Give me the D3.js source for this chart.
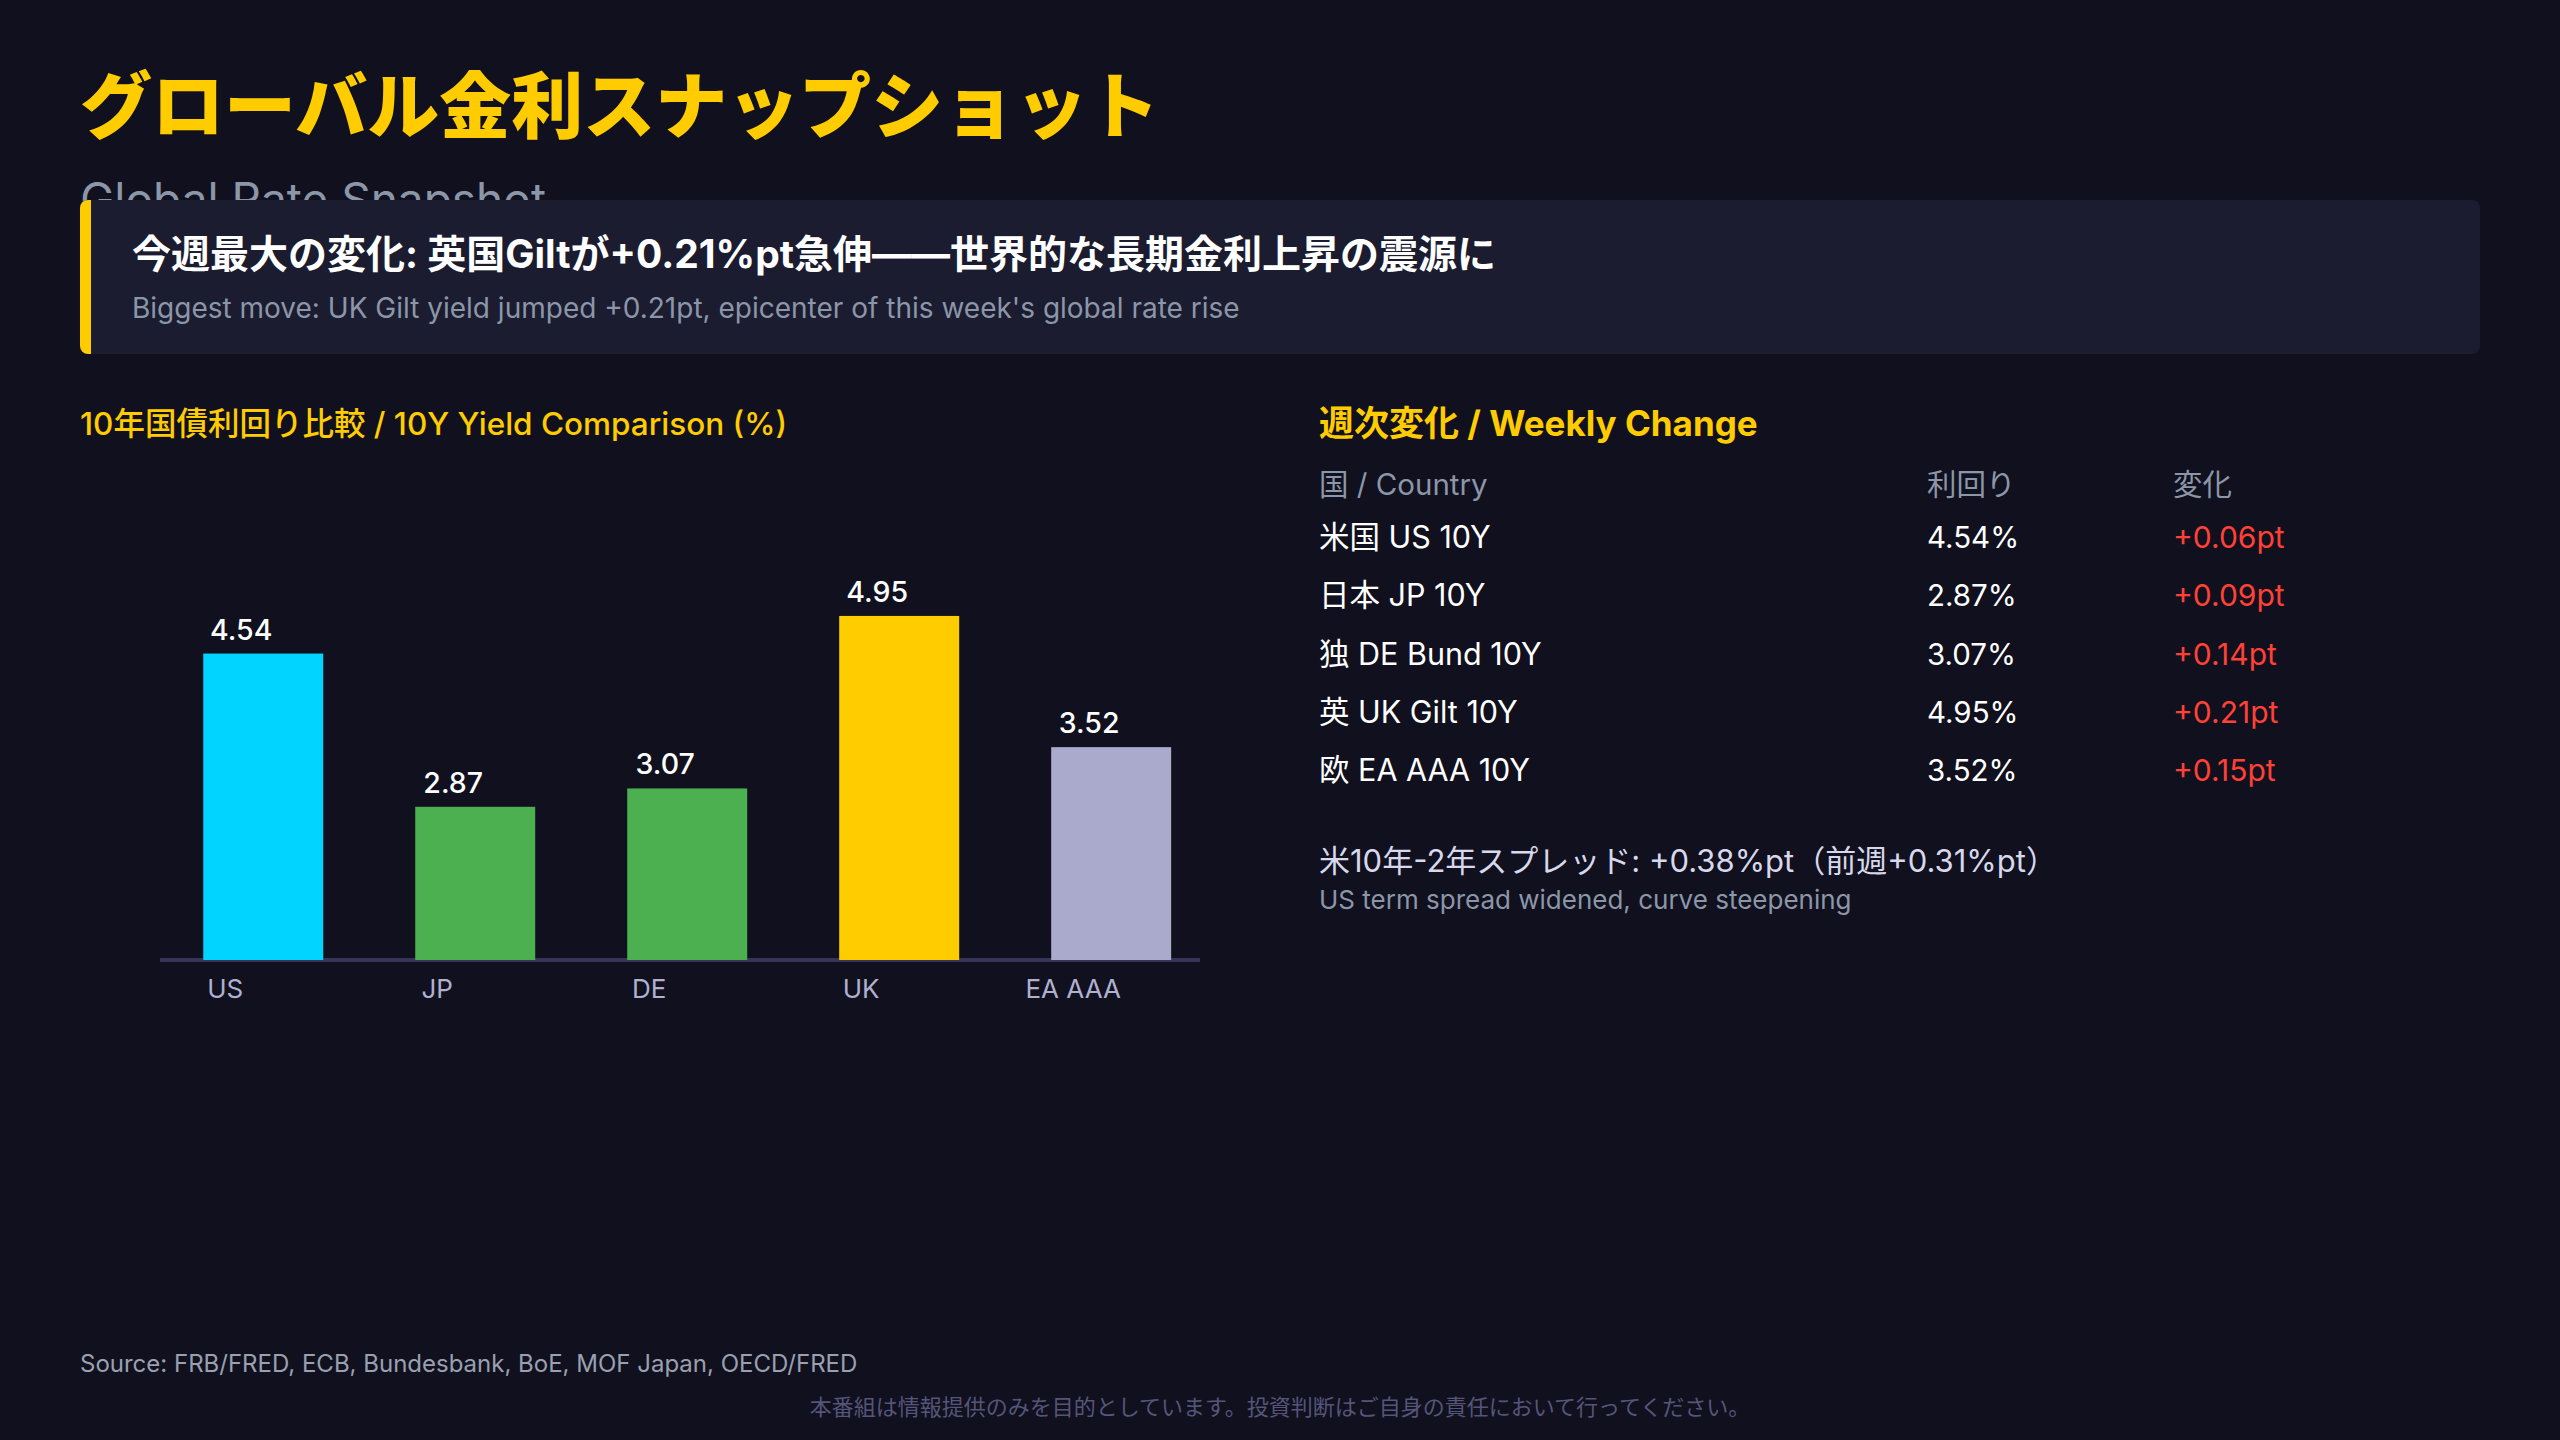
<!DOCTYPE html>
<html>
<head>
<meta charset="utf-8">
<script src="https://cdn.jsdelivr.net/npm/d3@7"></script>
<style>
  html, body { margin: 0; padding: 0; background: #10101e; }
  svg { display: block; }
  text { font-family: "Inter", "Noto Sans CJK JP", "Noto Sans", sans-serif; }
</style>
</head>
<body>
<svg id="chart" width="2560" height="1440"></svg>
<script>
// ---- data ----
const categories = ["US", "JP", "DE", "UK", "EA AAA"];
const yields = [4.54, 2.87, 3.07, 4.95, 3.52];
const barColors = ["#00d4ff", "#4caf50", "#4caf50", "#ffcc00", "#aaaacc"];
const tableCountries = ["米国 US 10Y", "日本 JP 10Y", "独 DE Bund 10Y", "英 UK Gilt 10Y", "欧 EA AAA 10Y"];
const weeklyChange = [0.06, 0.09, 0.14, 0.21, 0.15];
const tableHeaders = ["国 / Country", "利回り", "変化"];
const yDomain = [1.2, 5.2];

const texts = {
  title: "グローバル金利スナップショット",
  subtitle: "Global Rate Snapshot",
  headline: "今週最大の変化: 英国Giltが+0.21%pt急伸——世界的な長期金利上昇の震源に",
  headlineSub: "Biggest move: UK Gilt yield jumped +0.21pt, epicenter of this week's global rate rise",
  leftTitle: "10年国債利回り比較 / 10Y Yield Comparison (%)",
  rightTitle: "週次変化 / Weekly Change",
  spread: "米10年-2年スプレッド: +0.38%pt（前週+0.31%pt）",
  spreadSub: "US term spread widened, curve steepening",
  source: "Source: FRB/FRED, ECB, Bundesbank, BoE, MOF Japan, OECD/FRED",
  disclaimer: "本番組は情報提供のみを目的としています。投資判断はご自身の責任において行ってください。"
};

const svg = d3.select("#chart");
svg.append("rect").attr("width", 2560).attr("height", 1440).attr("fill", "#10101e");

// ---- header ----
svg.append("text").attr("x", 80).attr("y", 132)
  .attr("font-size", 72).attr("font-weight", 900).attr("fill", "#ffcc00")
  .text(texts.title);
svg.append("text").attr("x", 80).attr("y", 216)
  .attr("font-size", 46).attr("fill", "#8b96a8")
  .text(texts.subtitle);

// callout box
const defs = svg.append("defs");
defs.append("clipPath").attr("id", "boxclip")
  .append("rect").attr("x", 80).attr("y", 200).attr("width", 2400).attr("height", 154).attr("rx", 8);
const box = svg.append("g").attr("clip-path", "url(#boxclip)");
box.append("rect").attr("x", 80).attr("y", 200).attr("width", 2400).attr("height", 154).attr("fill", "#1b1c30");
box.append("rect").attr("x", 80).attr("y", 200).attr("width", 11).attr("height", 154).attr("fill", "#ffcc00");
svg.append("text").attr("x", 132).attr("y", 268)
  .attr("font-size", 39).attr("font-weight", 700).attr("fill", "#ffffff")
  .text(texts.headline);
svg.append("text").attr("x", 132).attr("y", 318)
  .attr("font-size", 28).attr("fill", "#8b96a8")
  .text(texts.headlineSub);

// ---- bar chart ----
svg.append("text").attr("x", 80).attr("y", 435)
  .attr("font-size", 31.5).attr("font-weight", 500).attr("fill", "#ffcc00")
  .text(texts.leftTitle);

const x = d3.scaleBand().domain(categories).range([160, 1200])
  .paddingInner(0.434).paddingOuter(0.17).align(0.6);
const y = d3.scaleLinear().domain(yDomain).range([960, 593]);

const data = categories.map((c, i) => ({ c, v: yields[i], color: barColors[i] }));

svg.append("line").attr("x1", 160).attr("x2", 1200).attr("y1", 960).attr("y2", 960)
  .attr("stroke", "#35355c").attr("stroke-width", 4);

svg.append("g").selectAll("rect").data(data).join("rect")
  .attr("x", d => x(d.c)).attr("width", x.bandwidth())
  .attr("y", d => y(d.v)).attr("height", d => y(yDomain[0]) - y(d.v))
  .attr("fill", d => d.color);

svg.append("g").selectAll("text").data(data).join("text")
  .attr("x", d => x(d.c) + x.bandwidth() / 2 - 22)
  .attr("y", d => y(d.v) - 14)
  .attr("text-anchor", "middle")
  .attr("font-size", 28.5).attr("font-weight", 500).attr("fill", "#ffffff")
  .text(d => d.v.toFixed(2));

svg.append("g").selectAll("text").data(data).join("text")
  .attr("x", d => x(d.c) + x.bandwidth() / 2 - 38)
  .attr("y", 998)
  .attr("text-anchor", "middle")
  .attr("font-size", 26).attr("fill", "#b0b0d0")
  .text(d => d.c);

// ---- weekly change table ----
svg.append("text").attr("x", 1319).attr("y", 436)
  .attr("font-size", 35).attr("font-weight", 700).attr("fill", "#ffcc00")
  .text(texts.rightTitle);

const colX = [1319, 1927, 2173];
svg.append("g").selectAll("text").data(tableHeaders).join("text")
  .attr("x", (d, i) => colX[i]).attr("y", 495)
  .attr("font-size", 29.5).attr("fill", "#8b96a8")
  .text(d => d);

const rows = tableCountries.map((c, i) => ({ c, y: yields[i], ch: weeklyChange[i] }));
const rowY = d3.scalePoint().domain(d3.range(rows.length)).range([548, 781]);
const rg = svg.append("g").selectAll("g").data(rows).join("g")
  .attr("transform", (d, i) => `translate(0,${rowY(i)})`);
rg.append("text").attr("x", colX[0]).attr("font-size", 30.5).attr("fill", "#ffffff").text(d => d.c);
rg.append("text").attr("x", colX[1]).attr("font-size", 29.5).attr("fill", "#ffffff").text(d => d.y.toFixed(2) + "%");
rg.append("text").attr("x", colX[2]).attr("font-size", 30).attr("fill", "#ff4136")
  .text(d => (d.ch >= 0 ? "+" : "") + d.ch.toFixed(2) + "pt");

svg.append("text").attr("x", 1319).attr("y", 872)
  .attr("font-size", 31).attr("fill", "#d8d8ec").text(texts.spread);
svg.append("text").attr("x", 1319).attr("y", 909)
  .attr("font-size", 26).attr("fill", "#8b96a8").text(texts.spreadSub);

// ---- footer ----
svg.append("text").attr("x", 80).attr("y", 1372)
  .attr("font-size", 24).attr("fill", "#9aa0b0").text(texts.source);
svg.append("text").attr("x", 1280).attr("y", 1415).attr("text-anchor", "middle")
  .attr("font-size", 22).attr("fill", "#55557a").text(texts.disclaimer);
</script>
</body>
</html>
